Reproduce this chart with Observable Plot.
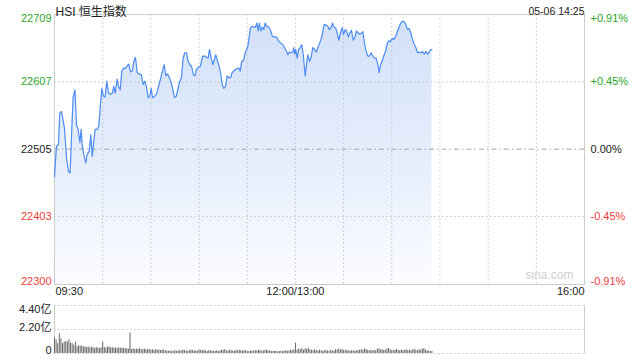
<!DOCTYPE html>
<html><head><meta charset="utf-8">
<script src="https://cdn.jsdelivr.net/npm/d3@7"></script>
<script src="https://cdn.jsdelivr.net/npm/@observablehq/plot@0.6"></script>
<style>
html,body{margin:0;padding:0;background:#fff;}
#chart{position:relative;width:640px;height:360px;overflow:hidden;}
#chart svg{position:absolute;left:0;display:block;}
</style></head><body><div id="chart"></div>
<script>
const FONT = '"Liberation Sans", Arial, "Noto Sans CJK SC", sans-serif';
const GREEN = "#2aa52a", RED = "#f03c3c", DARK = "#222";

const title = "HSI 恒生指数";
const stamp = "05-06 14:25";
const watermark = "sina.com";
const prevClose = 22505;
const priceTicks = [22300, 22403, 22505, 22607, 22709];
const priceLabels = ["22300", "22403", "22505", "22607", "22709"];
const pctLabels = ["-0.91%", "-0.45%", "0.00%", "+0.45%", "+0.91%"];
const timeGrid = [30, 60, 90, 120, 150, 180, 210, 240, 270, 300];
const timeLabelPos = [0, 150, 330];
const timeLabelText = ["09:30", "12:00/13:00", "16:00"];
const volTicks = [0, 2.2, 4.4];
const volLabels = ["0", "2.20亿", "4.40亿"];

// trading minutes since 09:30 (lunch removed) and index level
const minutes = [0,1.2,2.5,3.3,4.4,6.2,7.5,8.7,9.7,10.8,11.6,12.7,13.7,14.7,15.8,16.6,17.4,18.5,19.5,20.3,21.6,22.6,23.5,24.5,25.3,26.8,27.6,28.6,29.5,30.5,31.5,32.6,33.6,34.9,36.1,36.9,37.8,39,39.9,40.9,41.9,43,44,45.3,46.3,47.3,48.4,49.4,50.4,51.5,52.7,54,55.2,56.2,57.3,58.3,59.3,60.2,61,62.3,63.5,64.8,66,67.2,68.3,69.3,70.4,71.6,72.7,73.7,74.7,75.8,76.8,77.8,79.1,80.1,81.1,82.2,83.2,84.3,85.3,86.4,87.4,88.4,89.7,90.9,92.2,93.4,94.6,95.7,96.5,97.6,98.6,99.6,100.4,101.5,102.5,103.6,104.4,105.4,106.5,107.5,108.8,109.8,110.6,111.6,112.7,113.8,114.8,115.6,116.6,117.7,118.7,119.7,120.4,121.2,122,123.1,124.1,125.2,126,126.8,127.6,128.5,129.5,130.3,131.2,132.2,133.4,134.7,135.7,137,138.2,139.5,140.7,142,143.2,144.3,145.3,146.3,147.4,148.4,149,149.6,150.2,151.1,152,153,154,154.9,155.5,156.1,156.9,157.7,158.8,159.8,160.8,161.9,162.9,164,165.2,166.3,167.1,167.9,169.2,170.2,171.2,172.3,173.1,173.9,175,176,177,178.1,179.1,180,181,181.8,182.9,183.9,184.9,186,187,188,189.1,190.1,191.2,192,193,194.1,195.1,196.1,197.2,198.2,199.3,200.3,201.3,202.2,203,204,205,206.1,207.1,208.2,209.2,210.3,211.3,212.5,213.6,214.6,215.6,216.7,217.7,218.7,219.8,220.8,221.9,222.9,224,225,226,227.1,228.1,229.1,230.2,231.2,232.3,233.3,234.3,235];
const prices = [22463,22509,22512,22560,22562,22537,22492,22471,22469,22537,22583,22595,22542,22535,22515,22535,22507,22494,22484,22497,22502,22527,22494,22517,22535,22535,22540,22573,22597,22585,22584,22608,22590,22588,22590,22600,22590,22611,22600,22595,22623,22628,22627,22631,22634,22622,22623,22638,22644,22621,22619,22618,22603,22608,22599,22583,22585,22597,22583,22585,22588,22600,22611,22623,22633,22616,22619,22613,22606,22595,22583,22585,22595,22606,22614,22643,22651,22651,22638,22633,22631,22618,22616,22626,22629,22631,22646,22646,22644,22643,22656,22643,22633,22641,22648,22638,22631,22618,22603,22597,22600,22616,22613,22614,22621,22623,22626,22627,22628,22623,22638,22639,22651,22656,22661,22674,22689,22691,22690,22690,22696,22684,22696,22684,22690,22686,22696,22691,22690,22684,22675,22675,22675,22669,22666,22664,22659,22654,22648,22652,22651,22652,22659,22649,22656,22643,22656,22659,22663,22648,22631,22616,22633,22648,22638,22644,22659,22656,22652,22659,22666,22674,22684,22694,22693,22691,22686,22690,22696,22690,22689,22681,22670,22681,22689,22679,22686,22684,22675,22681,22685,22670,22674,22684,22681,22679,22681,22683,22665,22653,22646,22646,22651,22646,22643,22643,22633,22621,22633,22638,22646,22653,22665,22669,22668,22673,22671,22676,22684,22690,22696,22699,22698,22694,22686,22688,22681,22671,22664,22659,22651,22652,22651,22653,22649,22653,22649,22652,22656,22656];

// volume per minute (亿), minute index 0..235
const volume = [1.45,1.25,0.9,1.8,1.35,0.9,1.05,1.1,1.05,1.25,
0.95,0.9,0.75,1.05,0.6,0.7,0.65,0.7,0.6,0.62,
0.55,0.6,0.5,0.58,0.52,0.48,0.55,0.5,0.45,0.52,
1.05,0.55,0.5,0.58,0.6,0.52,0.55,0.48,0.5,0.45,
0.52,0.47,0.5,0.44,0.48,0.42,0.4,1.88,0.38,0.42,
0.36,0.4,0.38,0.44,0.35,0.37,0.4,0.33,0.36,0.38,
0.3,0.34,0.28,0.36,0.3,0.32,0.27,0.3,0.33,0.25,
0.22,0.2,0.24,0.19,0.22,0.25,0.2,0.23,0.28,0.21,
0.3,0.26,0.22,0.2,0.25,0.3,0.27,0.22,0.24,0.2,
0.32,0.28,0.25,0.3,0.22,0.2,0.24,0.27,0.21,0.19,
0.22,0.25,0.2,0.23,0.3,0.28,0.35,0.25,0.22,0.3,
0.26,0.23,0.2,0.28,0.24,0.3,0.26,0.22,0.25,0.27,
0.2,0.18,0.22,0.25,0.2,0.27,0.23,0.3,0.26,0.2,
0.24,0.28,0.32,0.25,0.22,0.2,0.18,0.22,0.2,0.16,
0.18,0.2,0.17,0.22,0.25,0.2,0.23,0.3,0.28,0.32,
0.95,0.3,0.4,0.35,0.45,0.3,0.42,0.38,0.48,0.35,
0.3,0.25,0.35,0.28,0.22,0.3,0.26,0.2,0.24,0.3,
0.22,0.2,0.28,0.24,0.2,0.35,0.3,0.42,0.32,0.38,
0.28,0.25,0.3,0.22,0.2,0.26,0.23,0.2,0.25,0.28,
0.3,0.35,0.28,0.4,0.36,0.3,0.25,0.28,0.22,0.3,
0.25,0.38,0.45,0.3,0.35,0.28,0.3,0.4,0.46,0.33,
0.28,0.25,0.3,0.35,0.28,0.26,0.3,0.25,0.3,0.35,
0.28,0.3,0.26,0.32,0.38,0.3,0.25,0.35,0.3,0.4,
0.45,0.3,0.26,0.22,0.2,0.18];

const series = minutes.map((m, i) => ({m, p: prices[i]}));
const ticks = priceTicks.map((v, i) => ({
  v, label: priceLabels[i], pct: pctLabels[i],
  color: v > prevClose ? GREEN : v < prevClose ? RED : DARK
}));
const bars = volume.map((v, i) => ({m: i, v}));
const vticks = volTicks.map((v, i) => ({v, label: volLabels[i]}));

const dotted = {stroke: "#c4c4c4", strokeDasharray: "1.5,2.5"};
const yTop = priceTicks[priceTicks.length - 1], yBottom = priceTicks[0];

const gradient = () => {
  const defs = d3.create("svg:defs");
  const g = defs.append("linearGradient").attr("id", "pg")
    .attr("gradientUnits", "userSpaceOnUse")
    .attr("x1", 0).attr("x2", 0).attr("y1", 14).attr("y2", 284);
  g.append("stop").attr("offset", "0%").attr("stop-color", "#d2e0f9");
  g.append("stop").attr("offset", "55%").attr("stop-color", "#e6eefc");
  g.append("stop").attr("offset", "100%").attr("stop-color", "#fbfcff");
  return defs.node();
};

const main = Plot.plot({
  width: 640, height: 300,
  marginLeft: 54, marginRight: 56, marginTop: 14, marginBottom: 16,
  x: {domain: [0, 330], axis: null},
  y: {domain: [yBottom, yTop], axis: null},
  color: {type: "identity"},
  style: {fontFamily: FONT, fontSize: "11px", background: "transparent", overflow: "visible"},
  marks: [
    gradient,
    Plot.areaY(series, {x: "m", y1: () => yBottom, y2: "p", fill: "url(#pg)"}),
    Plot.ruleX(timeGrid, dotted),
    Plot.ruleY(priceTicks.filter(v => v !== prevClose && v !== yTop && v !== yBottom), dotted),
    Plot.ruleY([prevClose], {stroke: "#a8a8a8", strokeDasharray: "5,3,1.5,3"}),
    Plot.frame({stroke: "#cccccc"}),
    Plot.lineY(series, {x: "m", y: "p", stroke: "#4d8cf2", strokeWidth: 1.2}),
    // left labels
    Plot.text(ticks.filter(d => d.v === yTop), {y: "v", text: "label", fill: "color", frameAnchor: "left", textAnchor: "end", dx: -3, lineAnchor: "top"}),
    Plot.text(ticks.filter(d => d.v !== yTop && d.v !== yBottom), {y: "v", text: "label", fill: "color", frameAnchor: "left", textAnchor: "end", dx: -3}),
    Plot.text(ticks.filter(d => d.v === yBottom), {y: "v", text: "label", fill: "color", frameAnchor: "left", textAnchor: "end", dx: -3, lineAnchor: "bottom"}),
    // right labels
    Plot.text(ticks.filter(d => d.v === yTop), {y: "v", text: "pct", fill: "color", frameAnchor: "right", textAnchor: "start", dx: 6, lineAnchor: "top"}),
    Plot.text(ticks.filter(d => d.v !== yTop && d.v !== yBottom), {y: "v", text: "pct", fill: "color", frameAnchor: "right", textAnchor: "start", dx: 6}),
    Plot.text(ticks.filter(d => d.v === yBottom), {y: "v", text: "pct", fill: "color", frameAnchor: "right", textAnchor: "start", dx: 6, lineAnchor: "bottom"}),
    // time labels
    Plot.text([timeLabelPos[0]], {x: d => d, text: () => timeLabelText[0], frameAnchor: "bottom", textAnchor: "start", dy: 10, dx: 1, fill: DARK}),
    Plot.text([timeLabelPos[1]], {x: d => d, text: () => timeLabelText[1], frameAnchor: "bottom", textAnchor: "middle", dy: 10, fill: DARK}),
    Plot.text([timeLabelPos[2]], {x: d => d, text: () => timeLabelText[2], frameAnchor: "bottom", textAnchor: "end", dy: 10, fill: DARK}),
    // header
    Plot.text([title], {text: d => d, frameAnchor: "top-left", textAnchor: "start", dy: -7, dx: 1, fontSize: 12, fill: DARK}),
    Plot.text([stamp], {text: d => d, frameAnchor: "top-right", textAnchor: "end", dy: -7, fontSize: 10.5, fill: DARK}),
    Plot.text([watermark], {text: d => d, frameAnchor: "bottom-right", textAnchor: "end", dx: -11, dy: -6, fontSize: 12, fill: "#d0d0d0"})
  ]
});
main.style.top = "0px";

const vol = Plot.plot({
  width: 640, height: 60,
  marginLeft: 54, marginRight: 56, marginTop: 5, marginBottom: 7,
  x: {domain: [0, 330], axis: null},
  y: {domain: [volTicks[0], volTicks[2]], axis: null},
  style: {fontFamily: FONT, fontSize: "11px", background: "transparent", overflow: "visible"},
  marks: [
    Plot.ruleY(volTicks, dotted),
    Plot.ruleX([0, 330], {stroke: "#cccccc"}),
    Plot.ruleX(bars, {x: "m", y1: () => 0, y2: "v", stroke: "#666", strokeWidth: 1}),
    Plot.text(vticks.filter(d => d.v === volTicks[2]), {y: "v", text: "label", frameAnchor: "left", textAnchor: "end", dx: -3, lineAnchor: "top", fill: DARK}),
    Plot.text(vticks.filter(d => d.v === volTicks[1]), {y: "v", text: "label", frameAnchor: "left", textAnchor: "end", dx: -3, dy: -2, fill: DARK}),
    Plot.text(vticks.filter(d => d.v === volTicks[0]), {y: "v", text: "label", frameAnchor: "left", textAnchor: "end", dx: -3, lineAnchor: "bottom", fill: DARK})
  ]
});
vol.style.top = "300px";

const root = document.getElementById("chart");
root.append(main, vol);
</script>
</body></html>
